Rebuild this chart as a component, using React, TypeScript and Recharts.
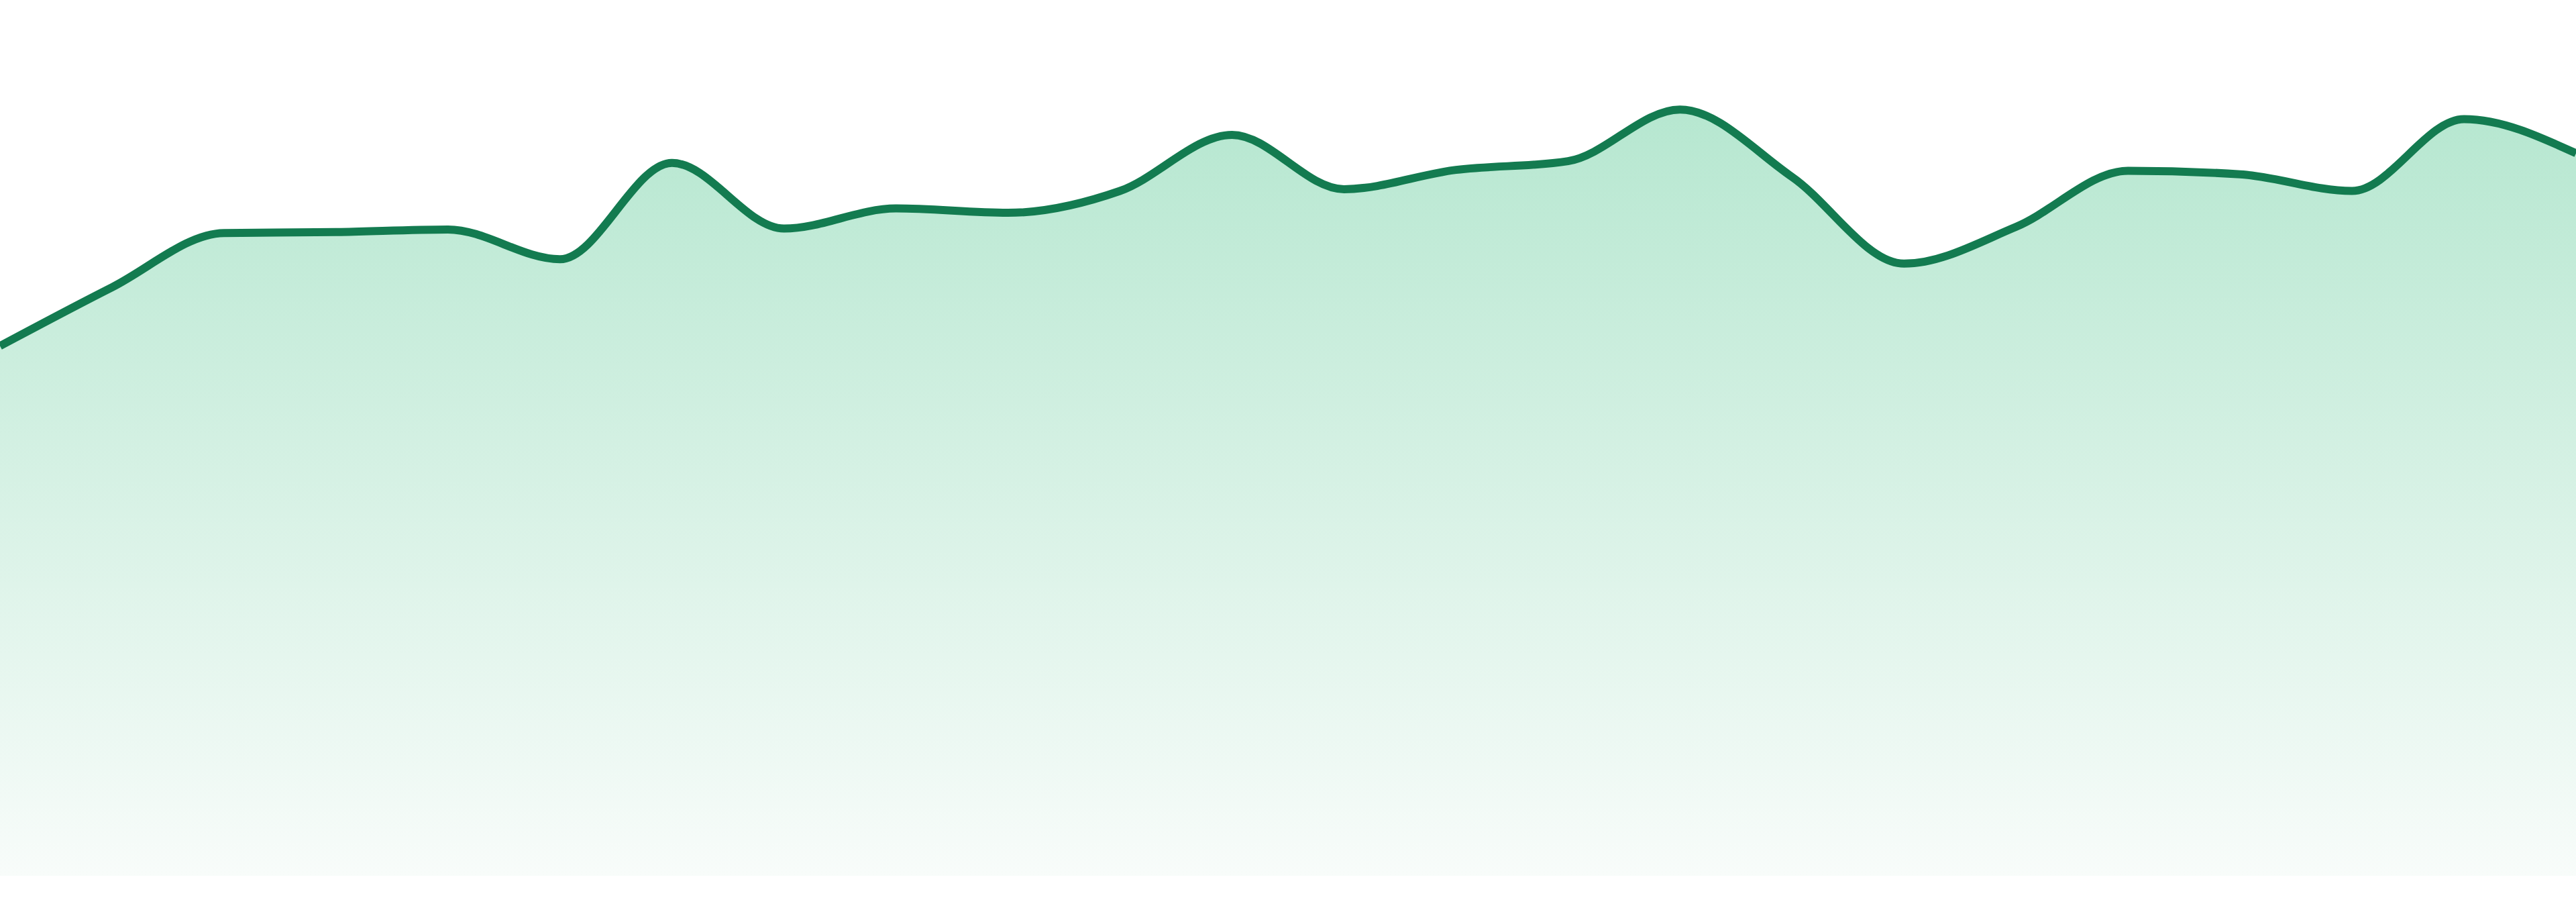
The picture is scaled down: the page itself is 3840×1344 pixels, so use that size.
import React from "react";
import { AreaChart, Area, XAxis, YAxis } from "recharts";

// one sample per step
const steps = [
  "1", "2", "3", "4", "5", "6", "7", "8", "9", "10", "11", "12",
  "13", "14", "15", "16", "17", "18", "19", "20", "21", "22", "23", "24",
];
const values = [
  60.5, 67.2, 73.4, 73.5, 73.8, 70.4, 81.4, 73.9, 76.2, 75.7, 78.2, 84.6,
  78.4, 80.6, 81.6, 87.5, 79.8, 69.9, 74.1, 80.5, 80.1, 78.2, 86.4, 82.5,
];

const data = steps.map((step, i) => ({ step, value: values[i] }));

export default function App() {
  return (
    <div style={{ width: 3840, height: 1344 }}>
      <style>{"body{margin:0;background:#fff}"}</style>
      <AreaChart width={3840} height={1344} data={data} margin={{ top: 0, right: 0, left: 0, bottom: 39 }}>
        <defs>
          <linearGradient id="fillGreen" x1="0" y1="0" x2="0" y2="1">
            <stop offset="0%" stopColor="#b6e7d0" />
            <stop offset="100%" stopColor="#f8fcfa" />
          </linearGradient>
        </defs>
        <XAxis dataKey="step" hide />
        <YAxis hide domain={[0, 100]} />
        <Area
          type="monotone"
          dataKey="value"
          stroke="#137b50"
          strokeWidth={12}
          fill="url(#fillGreen)"
          fillOpacity={1}
          dot={false}
          activeDot={false}
          isAnimationActive={false}
        />
      </AreaChart>
    </div>
  );
}
